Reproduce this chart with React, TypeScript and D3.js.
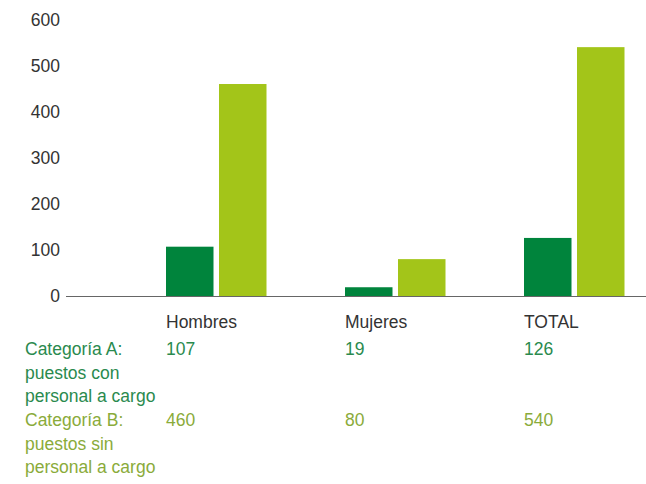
import React from "react";
import * as d3 from "d3";

const categories = ["Hombres", "Mujeres", "TOTAL"];
const seriesA = [107, 19, 126];
const seriesB = [460, 80, 540];
const yTicks = [0, 100, 200, 300, 400, 500, 600];
const legendA = ["Categoría A:", "puestos con", "personal a cargo"];
const legendB = ["Categoría B:", "puestos sin", "personal a cargo"];

const W = 646;
const H = 484;
const DARK = "#00843c";
const LIGHT = "#a3c519";
const TEXT_A = "#2a8a4e";
const TEXT_B = "#8aab3a";
const FONT = "'Liberation Sans', Arial, Helvetica, sans-serif";
const FS = 17.5;

export default function App() {
  const y = d3.scaleLinear().domain([0, 600]).range([296, 19.5]);
  const x = d3.scaleBand<string>().domain(categories).range([166, 703]).paddingInner(0).paddingOuter(0);
  const barW = 47.5;
  const gap = 5.5;

  return (
    <svg width={W} height={H} style={{ position: "absolute", left: 0, top: 0 }} fontFamily={FONT}>
      {yTicks.map((t) => (
        <text key={t} x={60} y={y(t)} dy="0.36em" textAnchor="end" fontSize={FS} fill="#333">
          {t}
        </text>
      ))}
      {categories.map((c, i) => {
        const x0 = x(c)!;
        return (
          <g key={c}>
            <rect x={x0} y={y(seriesA[i])} width={barW} height={y(0) - y(seriesA[i])} fill={DARK} />
            <rect x={x0 + barW + gap} y={y(seriesB[i])} width={barW} height={y(0) - y(seriesB[i])} fill={LIGHT} />
            <text x={x0} y={328} fontSize={FS} fill="#333">{c}</text>
            <text x={x0} y={355} fontSize={FS} fill={TEXT_A}>{seriesA[i]}</text>
            <text x={x0} y={426} fontSize={FS} fill={TEXT_B}>{seriesB[i]}</text>
          </g>
        );
      })}
      <line x1={66} x2={W} y1={y(0) + 0.5} y2={y(0) + 0.5} stroke="#666" strokeWidth={1.2} />
      {legendA.map((l, i) => (
        <text key={"a" + i} x={25} y={355 + i * 23.7} fontSize={FS} fill={TEXT_A}>{l}</text>
      ))}
      {legendB.map((l, i) => (
        <text key={"b" + i} x={25} y={426 + i * 23.7} fontSize={FS} fill={TEXT_B}>{l}</text>
      ))}
    </svg>
  );
}
